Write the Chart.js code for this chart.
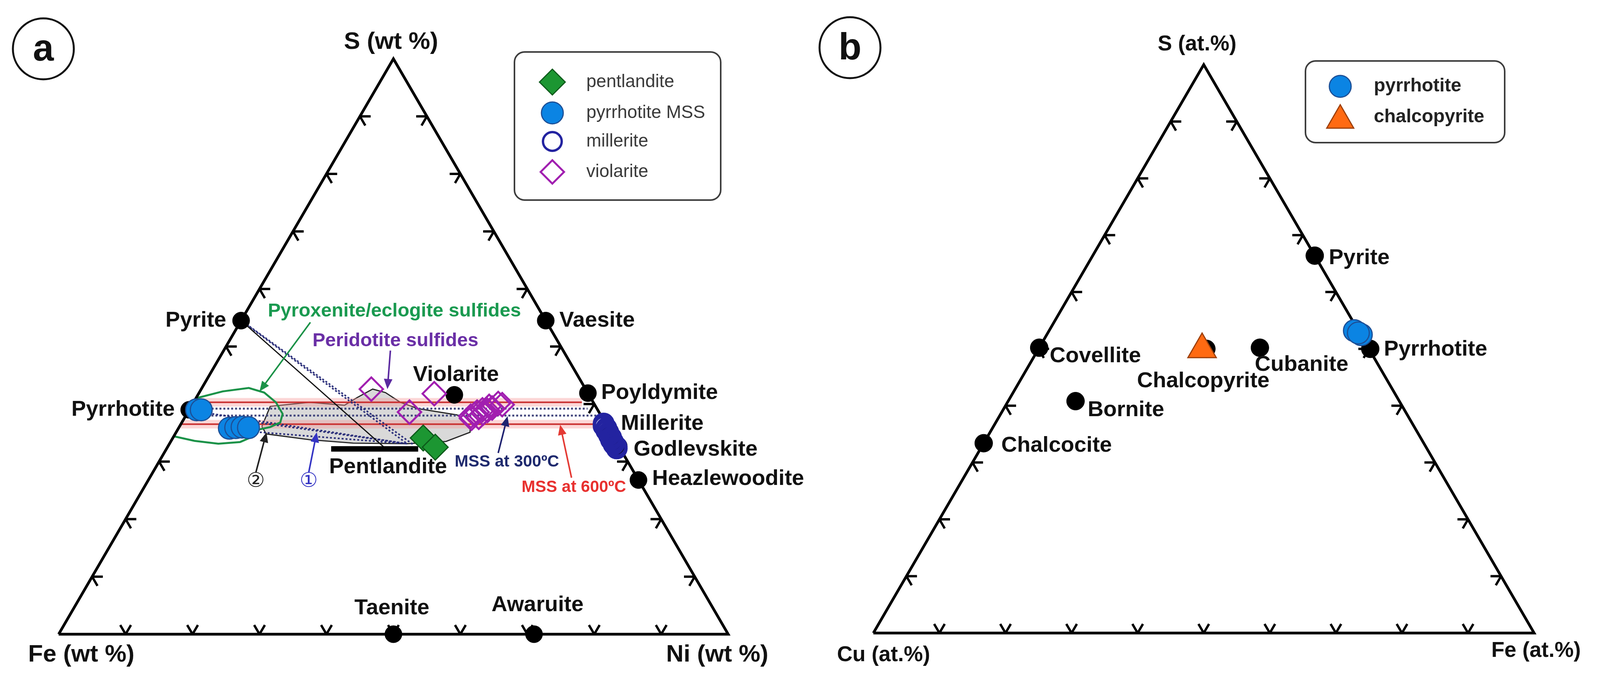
<!DOCTYPE html>
<html>
<head>
<meta charset="utf-8">
<title>Ternary sulfide diagrams</title>
<script src="https://cdn.jsdelivr.net/npm/chart.js@4.4.1/dist/chart.umd.min.js"></script>
<style>
html, body { margin: 0; padding: 0; background: #fff; }
#wrap { position: relative; width: 4111px; height: 1776px; overflow: hidden; }
canvas { position: absolute; top: 0; }
#chart_a { left: 0; }
#chart_b { left: 2055px; }
</style>
</head>
<body>
<div id="wrap">
  <canvas id="chart_a" width="2200" height="1776"></canvas>
  <canvas id="chart_b" width="2056" height="1776"></canvas>
</div>
<script>
// ---------------- data ----------------
// panel a (wt %) : compositions as S and Ni, Fe = 100 - S - Ni
var mineralsA = ['Pyrite', 'Vaesite', 'Violarite', 'Poyldymite', 'Pyrrhotite', 'Millerite', 'Godlevskite', 'Heazlewoodite', 'Taenite', 'Awaruite'];
var mineralsA_S = [54.5, 54.5, 41.6, 41.9, 39.0, 35.3, 32.7, 26.8, 0, 0];
var mineralsA_Ni = [0, 45.5, 38.3, 58.1, 0, 64.7, 67.3, 73.2, 50, 71];

var pentlanditeS = [34.1, 32.5];
var pentlanditeNi = [37.4, 40.0];
var pyrrhotiteMssS = [39.0, 39.0, 35.8, 35.9, 36.0, 35.9];
var pyrrhotiteMssNi = [1.1, 1.8, 7.6, 8.5, 9.4, 10.4];
var milleriteS = [36.6, 36.2, 35.8, 35.4, 35.0, 34.6, 34.2, 33.8, 33.4, 33.0, 32.6, 32.3];
var milleriteNi = [63.1, 63.3, 63.9, 64.1, 64.6, 64.9, 65.4, 65.6, 66.1, 66.4, 67.0, 67.2];
var violariteS = [42.6, 38.6, 41.8, 37.9, 38.6, 39.0, 39.6, 40.1, 39.9, 37.7, 38.2, 38.9, 39.3, 38.4, 37.5];
var violariteNi = [25.4, 33.1, 35.2, 42.6, 43.2, 43.8, 44.5, 45.6, 46.3, 43.9, 43.0, 44.6, 45.1, 44.2, 42.9];

// fields and lines, each vertex is [S, Ni]
var mss600Upper = [[40.3, 0.5], [40.3, 58.0]];
var mss600Lower = [[36.5, 0], [36.5, 62.0]];
var mss300Upper = [[39.2, 1.5], [39.2, 59.4]];
var mss300Lower = [[38.0, 1.5], [38.0, 61.7]];
var tiePyriteA = [[54.5, 0], [33.1, 35.5]];
var tiePyriteB = [[54.3, 0.4], [33.0, 36.4]];
var tieLine1 = [[38.3, 3.8], [33.1, 35.5]];
var tieLine2 = [[36.8, 11.3], [33.1, 35.5]];
var tieLine3 = [[35.1, 12.5], [33.1, 35.5]];
var pyriteLine = [[54.5, 0], [32.6, 32.2]];
var pentlanditeBar = [[32.2, 24.6], [32.2, 37.6]];
var peridotiteField = [[36.1, 12.3], [39.6, 11.8], [40.3, 17.3], [39.8, 22.8], [41.1, 24.0], [42.6, 25.6],
  [42.0, 27.8], [40.3, 30.9], [39.2, 34.1], [38.1, 40.5], [36.1, 43.4], [35.1, 43.9], [33.5, 41.1],
  [33.1, 35.5], [33.2, 27.4], [33.8, 20.6], [34.8, 13.6], [36.1, 12.3]];
var pyroxeniteField = [[41.0, 0], [42.2, 3.4], [42.8, 7.0], [42.0, 9.7], [40.3, 12.3], [38.3, 14.3],
  [36.8, 14.7], [36.0, 13.6], [35.6, 12.2], [34.4, 11.9], [33.4, 10.4], [33.1, 7.3], [33.6, 3.5],
  [34.4, 0], [41.0, 0]];

// panel b (at.%) : compositions as S and Fe, Cu = 100 - S - Fe
var mineralsB = ['Pyrite', 'Pyrrhotite', 'Covellite', 'Chalcopyrite', 'Cubanite', 'Bornite', 'Chalcocite'];
var mineralsB_S = [66.4, 50.0, 50.2, 50.0, 50.2, 40.8, 33.4];
var mineralsB_Fe = [33.6, 50.2, 0, 25.4, 33.4, 10.2, 0];
var pyrrhotiteB_S = [53.2, 52.5, 52.8];
var pyrrhotiteB_Fe = [46.2, 47.6, 47.0];
var chalcopyriteB_S = [49.9];
var chalcopyriteB_Fe = [24.8];

var tickValues = [10, 20, 30, 40, 50, 60, 70, 80, 90];

// ---------------- helpers ----------------
var SQ = Math.sqrt(3) / 2;
function tern(s, r) { return { x: r + s / 2, y: s * SQ }; }
function pts(sArr, rArr) { return sArr.map(function (s, i) { return tern(s, rArr[i]); }); }
function path(pairs) { return pairs.map(function (p) { return tern(p[0], p[1]); }); }

// two short grid-line stubs at every tick on each side
function tickPath(values, len) {
  var out = [], gap = { x: null, y: null };
  values.forEach(function (t) {
    out.push(tern(0, t), tern(len, t), gap, tern(0, t), tern(len, t - len), gap);
    out.push(tern(t, 0), tern(t, len), gap, tern(t, 0), tern(t - len, len), gap);
    out.push(tern(t, 100 - t), tern(t, 100 - t - len), gap, tern(t, 100 - t), tern(t - len, 100 - t), gap);
  });
  return out;
}

function lineSet(data, color, width, extra) {
  var d = {
    data: data, showLine: true, borderColor: color, borderWidth: width,
    pointRadius: 0, pointHoverRadius: 0, fill: false, tension: 0, order: 6
  };
  for (var k in extra) d[k] = extra[k];
  return d;
}

function pointSet(label, data, style, radius, fill, stroke, bw, order) {
  return {
    label: label, data: data, showLine: false, pointStyle: style, pointRadius: radius,
    pointHoverRadius: radius, pointBackgroundColor: fill, pointBorderColor: stroke,
    pointBorderWidth: bw, order: order
  };
}

function drawArrow(ctx, x0, y0, x1, y1, color) {
  var a = Math.atan2(y1 - y0, x1 - x0), head = 26, half = 11;
  ctx.save();
  ctx.strokeStyle = color; ctx.fillStyle = color; ctx.lineWidth = 4;
  ctx.beginPath(); ctx.moveTo(x0, y0);
  ctx.lineTo(x1 - Math.cos(a) * head * 0.8, y1 - Math.sin(a) * head * 0.8); ctx.stroke();
  ctx.beginPath(); ctx.moveTo(x1, y1);
  ctx.lineTo(x1 - Math.cos(a) * head - Math.sin(a) * half, y1 - Math.sin(a) * head + Math.cos(a) * half);
  ctx.lineTo(x1 - Math.cos(a) * head + Math.sin(a) * half, y1 - Math.sin(a) * head - Math.cos(a) * half);
  ctx.closePath(); ctx.fill();
  ctx.restore();
}

// labels, arrows, legend box and panel tag drawn on top of the datasets
var ternaryDecor = {
  id: 'ternaryDecor',
  afterDatasetsDraw: function (chart, args, o) {
    var ctx = chart.ctx, xs = chart.scales.x, ys = chart.scales.y;
    function px(p) { return [xs.getPixelForValue(p.x), ys.getPixelForValue(p.y)]; }
    ctx.save();
    ctx.textBaseline = 'middle';

    // vertex titles
    o.vertices.forEach(function (v) {
      var p = px(tern(v.at[0], v.at[1]));
      ctx.font = o.vertexFont; ctx.fillStyle = '#111'; ctx.textAlign = 'center';
      ctx.fillText(v.text, p[0] + v.dx, p[1] + v.dy);
    });

    // end-member labels
    o.names.forEach(function (n, i) {
      var st = o.nameStyle[n];
      var p = px(tern(o.nameS[i], o.nameR[i]));
      ctx.font = o.nameFont; ctx.fillStyle = '#111'; ctx.textAlign = st.align;
      ctx.fillText(n, p[0] + st.dx, p[1] + st.dy);
    });

    // arrows and annotation text
    (o.arrows || []).forEach(function (a) {
      var p0 = px(tern(a.from[0], a.from[1])), p1 = px(tern(a.to[0], a.to[1]));
      drawArrow(ctx, p0[0], p0[1], p1[0], p1[1], a.color);
    });
    (o.notes || []).forEach(function (t) {
      var p = px(tern(t.at[0], t.at[1]));
      ctx.font = t.font; ctx.fillStyle = t.color; ctx.textAlign = 'center';
      ctx.fillText(t.text, p[0], p[1]);
    });

    // legend
    var L = o.legend;
    ctx.beginPath();
    ctx.roundRect(L.x, L.y, L.w, L.h, 26);
    ctx.fillStyle = '#fff'; ctx.fill();
    ctx.lineWidth = 4; ctx.strokeStyle = '#3c3c3c'; ctx.stroke();
    var items = chart.data.datasets.filter(function (d) { return d.inLegend; });
    items.forEach(function (d, i) {
      var y = L.rowY[i];
      ctx.fillStyle = d.pointBackgroundColor; ctx.strokeStyle = d.pointBorderColor;
      ctx.lineWidth = d.legendBorder || d.pointBorderWidth;
      Chart.helpers.drawPoint(ctx, { pointStyle: d.pointStyle, radius: d.legendRadius || d.pointRadius, rotation: 0, borderWidth: ctx.lineWidth }, L.markerX, y + (d.legendShift || 0));
      ctx.font = L.font; ctx.fillStyle = L.color; ctx.textAlign = 'left';
      ctx.fillText(d.label, L.textX, y);
    });

    // panel tag
    ctx.beginPath();
    ctx.arc(o.tag.x, o.tag.y, 78, 0, Math.PI * 2);
    ctx.lineWidth = 5; ctx.strokeStyle = '#111'; ctx.stroke();
    ctx.font = 'bold 96px "Liberation Sans", Arial, sans-serif';
    ctx.fillStyle = '#111'; ctx.textAlign = 'center';
    ctx.fillText(o.tag.text, o.tag.x, o.tag.y + 4);
    ctx.restore();
  }
};

function baseOptions(k, left, base, width, decor) {
  return {
    responsive: false,
    animation: false,
    layout: { padding: 0 },
    plugins: { legend: { display: false }, tooltip: { enabled: false }, ternaryDecor: decor },
    events: [],
    scales: {
      x: { type: 'linear', display: false, min: -left / k, max: (width - left) / k },
      y: { type: 'linear', display: false, min: -(1776 - base) / k, max: base / k }
    }
  };
}

var frame = path([[0, 0], [0, 100], [100, 0], [0, 0]]);
var ticks = tickPath(tickValues, 1.6);

// ---------------- panel a ----------------
var dotted = [5, 5];
var navy = '#2b2f7a';
var datasetsA = [
  pointSet('pentlandite', pts(pentlanditeS, pentlanditeNi), 'rectRot', 33, '#1c9632', '#0c5a1a', 3, 1),
  pointSet('pyrrhotite MSS', pts(pyrrhotiteMssS, pyrrhotiteMssNi), 'circle', 28, '#0b84e3', '#1d4f96', 3, 2),
  pointSet('millerite', pts(milleriteS, milleriteNi), 'circle', 24, 'rgba(255,255,255,0)', '#2323a0', 8, 2),
  pointSet('violarite', pts(violariteS, violariteNi), 'rectRot', 30, 'rgba(255,255,255,0)', '#a11fb0', 5, 1),
  pointSet('end members', pts(mineralsA_S, mineralsA_Ni), 'circle', 22, '#000', '#000', 1, 3),
  lineSet(frame, '#000', 7, { order: 4 }),
  lineSet(ticks, '#000', 6, { order: 4 }),
  lineSet(path(pentlanditeBar), '#000', 14, {}),
  lineSet(path(pyriteLine), '#111', 3, {}),
  lineSet(path(tiePyriteA), navy, 4, { borderDash: dotted }),
  lineSet(path(tiePyriteB), navy, 4, { borderDash: dotted }),
  lineSet(path(tieLine1), navy, 4, { borderDash: dotted }),
  lineSet(path(tieLine2), navy, 4, { borderDash: dotted }),
  lineSet(path(tieLine3), navy, 4, { borderDash: dotted }),
  lineSet(path(mss300Upper), '#44487e', 5, { borderDash: dotted }),
  lineSet(path(mss300Lower), '#44487e', 5, { borderDash: dotted }),
  lineSet(path(mss600Upper), '#c93030', 4, {}),
  lineSet(path(mss600Lower), '#c93030', 4, {}),
  lineSet(path(pyroxeniteField), '#1b9248', 5, { order: 5 }),
  lineSet(path(mss600Upper), 'rgba(248,150,150,0.38)', 22, { order: 8 }),
  lineSet(path(mss600Lower), 'rgba(248,150,150,0.38)', 22, { order: 8 }),
  lineSet(path(peridotiteField), '#262626', 3, { fill: 'shape', backgroundColor: '#d9d9d9', order: 9 })
];
datasetsA.slice(0, 4).forEach(function (d) { d.inLegend = true; });
datasetsA[2].legendBorder = 6;

var decorA = {
  vertexFont: 'bold 62px "Liberation Sans", Arial, sans-serif',
  vertices: [
    { text: 'S (wt %)', at: [100, 0], dx: -6, dy: -43 },
    { text: 'Fe (wt %)', at: [0, 0], dx: 58, dy: 53 },
    { text: 'Ni (wt %)', at: [0, 100], dx: -28, dy: 53 }
  ],
  nameFont: 'bold 56px "Liberation Sans", Arial, sans-serif',
  names: mineralsA, nameS: mineralsA_S, nameR: mineralsA_Ni,
  nameStyle: {
    'Pyrite': { dx: -38, dy: 0, align: 'right' },
    'Vaesite': { dx: 35, dy: 0, align: 'left' },
    'Violarite': { dx: 4, dy: -51, align: 'center' },
    'Poyldymite': { dx: 34, dy: 0, align: 'left' },
    'Pyrrhotite': { dx: -37, dy: 0, align: 'right' },
    'Millerite': { dx: 28, dy: -19, align: 'left' },
    'Godlevskite': { dx: 38, dy: 9, align: 'left' },
    'Heazlewoodite': { dx: 35, dy: -3, align: 'left' },
    'Taenite': { dx: -4, dy: -66, align: 'center' },
    'Awaruite': { dx: 9, dy: -74, align: 'center' }
  },
  arrows: [
    { from: [54.2, 10.5], to: [42.2, 8.9], color: '#1b9248' },
    { from: [49.3, 24.9], to: [42.6, 27.8], color: '#5b2aa0' },
    { from: [31.5, 49.9], to: [37.9, 48.1], color: '#1f2270' },
    { from: [27.2, 63.0], to: [36.4, 56.7], color: '#e43a34' },
    { from: [28.1, 15.4], to: [35.1, 13.5], color: '#222' },
    { from: [28.1, 23.3], to: [35.1, 21.0], color: '#3434c4' }
  ],
  notes: [
    { text: 'Pyroxenite/eclogite sulfides', at: [56.1, 22.1], color: '#1a9a50', font: 'bold 49px "Liberation Sans", Arial, sans-serif' },
    { text: 'Peridotite sulfides', at: [51.0, 24.8], color: '#6a2fa6', font: 'bold 49px "Liberation Sans", Arial, sans-serif' },
    { text: 'Pentlandite', at: [29.0, 34.7], color: '#111', font: 'bold 56px "Liberation Sans", Arial, sans-serif' },
    { text: 'MSS at 300ºC', at: [29.9, 52.0], color: '#1f2a6e', font: 'bold 42px "Liberation Sans", Arial, sans-serif' },
    { text: 'MSS at 600ºC', at: [25.5, 64.2], color: '#e8312f', font: 'bold 42px "Liberation Sans", Arial, sans-serif' },
    { text: '②', at: [26.5, 16.2], color: '#222', font: '52px "DejaVu Sans", sans-serif' },
    { text: '①', at: [26.5, 24.1], color: '#3434c4', font: '52px "DejaVu Sans", sans-serif' }
  ],
  legend: {
    x: 1317, y: 133, w: 528, h: 379, markerX: 1414, textX: 1501,
    rowY: [210, 289, 362, 440], font: '46px "Liberation Sans", Arial, sans-serif', color: '#3a3a3a'
  },
  tag: { x: 111, y: 125, text: 'a' }
};

new Chart(document.getElementById('chart_a').getContext('2d'), {
  type: 'scatter',
  data: { datasets: datasetsA },
  options: baseOptions(17.72, 118, 1654, 2200, decorA),
  plugins: [ternaryDecor]
});

// ---------------- panel b ----------------
var datasetsB = [
  pointSet('pyrrhotite', pts(pyrrhotiteB_S, pyrrhotiteB_Fe), 'circle', 28, '#0b84e3', '#1d4f96', 3, 1),
  pointSet('chalcopyrite', pts(chalcopyriteB_S, chalcopyriteB_Fe), 'triangle', 42, '#ff6a12', '#9c3f0c', 3, 1),
  pointSet('end members', pts(mineralsB_S, mineralsB_Fe), 'circle', 23, '#000', '#000', 1, 3),
  lineSet(frame, '#000', 7, { order: 4 }),
  lineSet(ticks, '#000', 6, { order: 4 })
];
datasetsB[0].inLegend = true;
datasetsB[1].inLegend = true;
datasetsB[1].legendRadius = 40;
datasetsB[1].legendShift = 8;

var decorB = {
  vertexFont: 'bold 55px "Liberation Sans", Arial, sans-serif',
  vertices: [
    { text: 'S (at.%)', at: [100, 0], dx: -17, dy: -52 },
    { text: 'Cu (at.%)', at: [0, 0], dx: 26, dy: 57 },
    { text: 'Fe (at.%)', at: [0, 100], dx: 5, dy: 46 }
  ],
  nameFont: 'bold 56px "Liberation Sans", Arial, sans-serif',
  names: mineralsB, nameS: mineralsB_S, nameR: mineralsB_Fe,
  nameStyle: {
    'Pyrite': { dx: 36, dy: 6, align: 'left' },
    'Pyrrhotite': { dx: 35, dy: 2, align: 'left' },
    'Covellite': { dx: 27, dy: 22, align: 'left' },
    'Chalcopyrite': { dx: -8, dy: 83, align: 'center' },
    'Cubanite': { dx: -13, dy: 44, align: 'left' },
    'Bornite': { dx: 31, dy: 23, align: 'left' },
    'Chalcocite': { dx: 45, dy: 6, align: 'left' }
  },
  arrows: [],
  notes: [],
  legend: {
    x: 1287, y: 156, w: 510, h: 209, markerX: 1376, textX: 1462,
    rowY: [221, 300], font: 'bold 48px "Liberation Sans", Arial, sans-serif', color: '#222'
  },
  tag: { x: 121, y: 122, text: 'b' }
};

new Chart(document.getElementById('chart_b').getContext('2d'), {
  type: 'scatter',
  data: { datasets: datasetsB },
  options: baseOptions(17.69, 142, 1659, 2056, decorB),
  plugins: [ternaryDecor]
});
</script>
</body>
</html>
